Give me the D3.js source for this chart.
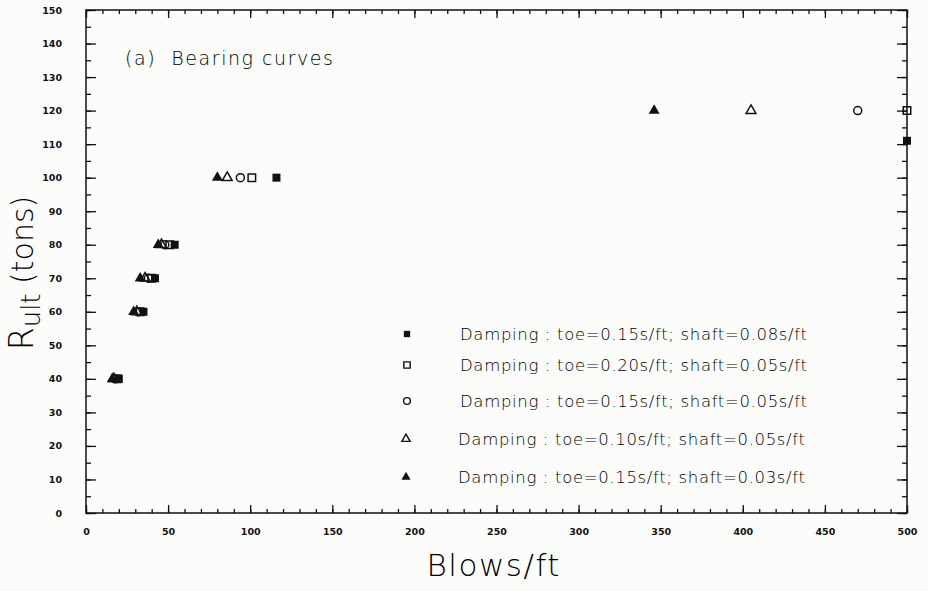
<!DOCTYPE html>
<html>
<head>
<meta charset="utf-8">
<script src="https://cdn.jsdelivr.net/npm/d3@7/dist/d3.min.js"></script>
<style>
  html, body { margin: 0; padding: 0; background: #fcfcfa; }
  svg { display: block; }
</style>
</head>
<body>
<svg id="chart" width="928" height="591"></svg>
<script>
// Bearing curves: ultimate resistance vs. blow count for five damping cases
const blowsFilledSquare = [20, 35, 42, 54, 116, 500];
const rultFilledSquare  = [40, 60, 70, 80, 100, 111];
const blowsOpenSquare   = [19, 33, 40, 51, 101, 500];
const rultOpenSquare    = [40, 60, 70, 80, 100, 120];
const blowsCircle       = [18, 32, 38, 48, 94, 470];
const rultCircle        = [40, 60, 70, 80, 100, 120];
const blowsOpenTri      = [17, 31, 36, 46, 86, 405];
const rultOpenTri       = [40, 60, 70, 80, 100, 120];
const blowsFilledTri    = [16, 29, 33, 44, 80, 346];
const rultFilledTri     = [40, 60, 70, 80, 100, 120];

const seriesLabels = [
  "Damping : toe=0.15s/ft; shaft=0.08s/ft",
  "Damping : toe=0.20s/ft; shaft=0.05s/ft",
  "Damping : toe=0.15s/ft; shaft=0.05s/ft",
  "Damping : toe=0.10s/ft; shaft=0.05s/ft",
  "Damping : toe=0.15s/ft; shaft=0.03s/ft"
];

const xTickValues = [0, 50, 100, 150, 200, 250, 300, 350, 400, 450, 500];
const yTickValues = [0, 10, 20, 30, 40, 50, 60, 70, 80, 90, 100, 110, 120, 130, 140, 150];
const xMinorTicks = d3.range(0, 501, 10);
const yMinorTicks = d3.range(0, 151, 5);

const titleText = "(a)  Bearing curves";
const xTitle = "Blows/ft";

const ink = "#111";
const textFont = "'DejaVu Sans', sans-serif";

const svg = d3.select("#chart");
const plotLeft = 86, plotRight = 907, plotTop = 10, plotBottom = 513;

const x = d3.scaleLinear().domain([0, 500]).range([plotLeft, plotRight]);
const y = d3.scaleLinear().domain([0, 150]).range([plotBottom, plotTop]);

// frame
svg.append("rect")
  .attr("x", plotLeft).attr("y", plotTop)
  .attr("width", plotRight - plotLeft).attr("height", plotBottom - plotTop)
  .attr("fill", "none").attr("stroke", ink).attr("stroke-width", 1.5);

function styleAxis(g) {
  g.select(".domain").remove();
  g.selectAll(".tick line").attr("stroke", ink).attr("stroke-width", 1.3);
}

// minor ticks
svg.append("g").attr("transform", `translate(0,${plotBottom})`)
  .call(d3.axisBottom(x).tickValues(xMinorTicks).tickSize(-4).tickFormat(""))
  .call(styleAxis);
svg.append("g").attr("transform", `translate(0,${plotTop})`)
  .call(d3.axisTop(x).tickValues(xMinorTicks).tickSize(-4).tickFormat(""))
  .call(styleAxis);
svg.append("g").attr("transform", `translate(${plotLeft},0)`)
  .call(d3.axisLeft(y).tickValues(yMinorTicks).tickSize(-5).tickFormat(""))
  .call(styleAxis);
svg.append("g").attr("transform", `translate(${plotRight},0)`)
  .call(d3.axisRight(y).tickValues(yMinorTicks).tickSize(-5).tickFormat(""))
  .call(styleAxis);

// major ticks with labels
const xAxis = svg.append("g").attr("transform", `translate(0,${plotBottom})`)
  .call(d3.axisBottom(x).tickValues(xTickValues).tickSize(-8).tickPadding(15))
  .call(styleAxis);
const yAxis = svg.append("g").attr("transform", `translate(${plotLeft},0)`)
  .call(d3.axisLeft(y).tickValues(yTickValues).tickSize(-10).tickPadding(24))
  .call(styleAxis);
svg.append("g").attr("transform", `translate(0,${plotTop})`)
  .call(d3.axisTop(x).tickValues(xTickValues).tickSize(-8).tickFormat(""))
  .call(styleAxis);
svg.append("g").attr("transform", `translate(${plotRight},0)`)
  .call(d3.axisRight(y).tickValues(yTickValues).tickSize(-10).tickFormat(""))
  .call(styleAxis);

[xAxis, yAxis].forEach(g => g.selectAll(".tick text")
  .attr("fill", ink)
  .style("font-family", "'DejaVu Sans', sans-serif")
  .style("font-size", "9.5px")
  .style("font-weight", "bold"));

// marker shapes
const sym = {
  filledSquare: { type: d3.symbolSquare, size: 64, fill: ink, stroke: "none" },
  openSquare:   { type: d3.symbolSquare, size: 56, fill: "none", stroke: ink },
  circle:       { type: d3.symbolCircle, size: 50, fill: "none", stroke: ink },
  openTri:      { type: d3.symbolTriangle, size: 42, fill: "none", stroke: ink },
  filledTri:    { type: d3.symbolTriangle, size: 52, fill: ink, stroke: "none" }
};

const series = [
  { xs: blowsFilledSquare, ys: rultFilledSquare, m: sym.filledSquare },
  { xs: blowsOpenSquare,   ys: rultOpenSquare,   m: sym.openSquare },
  { xs: blowsCircle,       ys: rultCircle,       m: sym.circle },
  { xs: blowsOpenTri,      ys: rultOpenTri,      m: sym.openTri },
  { xs: blowsFilledTri,    ys: rultFilledTri,    m: sym.filledTri }
];

series.forEach(s => {
  svg.append("g").selectAll("path")
    .data(s.xs.map((v, i) => [v, s.ys[i]]))
    .join("path")
    .attr("transform", d => `translate(${x(d[0])},${y(d[1])})`)
    .attr("d", d3.symbol().type(s.m.type).size(s.m.size))
    .attr("fill", s.m.fill)
    .attr("stroke", s.m.stroke)
    .attr("stroke-width", 1.5);
});

// title inside the plot
svg.append("text")
  .attr("x", 125).attr("y", 65)
  .attr("fill", "#000")
  .style("font-family", textFont).style("font-size", "19px").style("font-weight", "200")
  .attr("textLength", 208).attr("lengthAdjust", "spacing")
  .attr("xml:space", "preserve")
  .text(titleText);

// legend
const legendRows = [334, 365, 401, 439, 477];
const legendMarkerX = [407, 407, 407, 406, 406];
const legendTextX = [460, 460, 460, 458, 458];
const legendSizes = [40, 40, 36, 30, 36];
const leg = svg.append("g");
series.forEach((s, i) => {
  leg.append("path")
    .attr("transform", `translate(${legendMarkerX[i]},${legendRows[i]})`)
    .attr("d", d3.symbol().type(s.m.type).size(legendSizes[i]))
    .attr("fill", s.m.fill)
    .attr("stroke", s.m.stroke)
    .attr("stroke-width", 1.4);
  leg.append("text")
    .attr("x", legendTextX[i]).attr("y", legendRows[i])
    .attr("dy", "0.36em")
    .attr("fill", "#000")
    .style("font-family", textFont).style("font-size", "16.5px").style("font-weight", "200")
    .attr("textLength", 347).attr("lengthAdjust", "spacing")
    .text(seriesLabels[i]);
});

// axis titles
svg.append("text")
  .attr("x", 493).attr("y", 576)
  .attr("text-anchor", "middle")
  .attr("fill", "#000")
  .style("font-family", textFont).style("font-size", "31px").style("font-weight", "200")
  .attr("textLength", 133).attr("lengthAdjust", "spacing")
  .text(xTitle);

const yt = svg.append("text")
  .attr("transform", "translate(33,273) rotate(-90)")
  .attr("text-anchor", "middle")
  .attr("fill", "#000")
  .style("font-family", textFont).style("font-weight", "200");
yt.append("tspan").style("font-size", "33px").text("R");
yt.append("tspan").style("font-size", "26px").attr("dy", 7).text("ult");
yt.append("tspan").style("font-size", "30px").attr("dy", -7).text(" (tons)");
</script>
</body>
</html>
